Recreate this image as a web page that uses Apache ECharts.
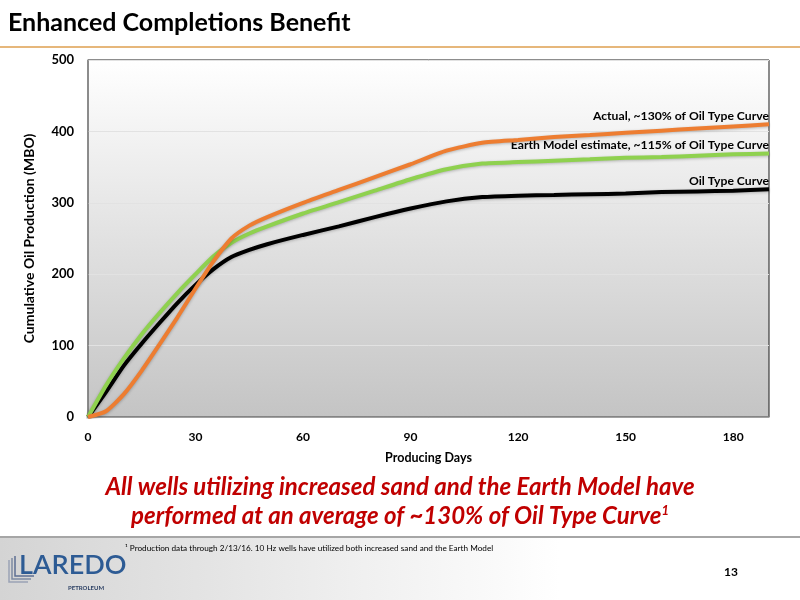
<!DOCTYPE html>
<html>
<head>
<meta charset="utf-8">
<script src="https://cdn.jsdelivr.net/npm/echarts@6/dist/echarts.min.js"></script>
<style>
html,body{margin:0;padding:0;background:#fff;}
#chart{width:800px;height:600px;}
</style>
</head>
<body>
<div id="chart"></div>
<script>
// ---- data ----
var days = [0, 5, 10, 15, 20, 25, 30, 35, 40, 45, 50, 60, 70, 80, 90, 100, 110, 120, 130, 140, 150, 160, 170, 180, 190];
var typeCurve = [0, 35, 72, 103, 132, 160, 185, 207, 224, 234, 242, 255, 267, 280, 292, 302, 308, 310, 311, 312, 313, 315, 316, 317, 319];
var earthModel = [0, 44, 82, 116, 146, 174, 200, 225, 244, 257, 267, 285, 301, 317, 333, 347, 355, 357, 359, 361, 363, 364, 366, 368, 369];
var actual = [0, 8, 32, 65, 102, 140, 180, 218, 250, 268, 280, 300, 318, 336, 354, 373, 384, 388, 392, 395, 398, 401, 404, 407, 410];
var seriesNames = ['Oil Type Curve', 'Earth Model estimate, ~115% of Oil Type Curve', 'Actual, ~130% of Oil Type Curve'];
var xTicks = [0, 30, 60, 90, 120, 150, 180];
var yTicks = [0, 100, 200, 300, 400, 500];

function pairs(xs, ys) { return xs.map(function (x, i) { return [x, ys[i]]; }); }

var FONT = 'Lato';
var chart = echarts.init(document.getElementById('chart'), null, { renderer: 'canvas' });

function lineSeries(name, data, color, z) {
  return {
    name: name,
    type: 'line',
    data: pairs(days, data),
    smooth: 0.2,
    showSymbol: false,
    symbol: 'none',
    z: z,
    lineStyle: { color: color, width: 4, shadowColor: 'rgba(0,0,0,0.25)', shadowBlur: 3, shadowOffsetY: 1 },
    endLabel: {
      show: true,
      formatter: name,
      align: 'right',
      verticalAlign: 'bottom',
      distance: 0,
      offset: [0, -2],
      color: '#000',
      fontFamily: FONT,
      fontWeight: 'bold',
      fontSize: 12.2
    }
  };
}

var option = {
  animation: false,
  backgroundColor: '#fff',
  grid: {
    left: 88, right: 31, top: 60, bottom: 183,
    show: true,
    borderColor: '#1a1a1a',
    borderWidth: 1,
    backgroundColor: new echarts.graphic.LinearGradient(0, 0, 0, 1, [
      { offset: 0, color: '#ffffff' },
      { offset: 1, color: '#c4c4c4' }
    ])
  },
  xAxis: {
    type: 'value', min: 0, max: 190, interval: 30,
    name: 'Producing Days', nameLocation: 'middle', nameGap: 34,
    nameTextStyle: { fontFamily: FONT, fontWeight: 'bold', fontSize: 12.5, color: '#000' },
    axisLine: { show: true, lineStyle: { color: '#8c8c8c', width: 1.5 } },
    axisTick: { show: false },
    splitLine: { show: false },
    axisLabel: {
      showMaxLabel: false, margin: 14,
      fontFamily: FONT, fontWeight: 'bold', fontSize: 12, color: '#000',
      formatter: function (v) { return xTicks.indexOf(v) >= 0 ? String(v) : ''; }
    }
  },
  yAxis: {
    type: 'value', min: 0, max: 500, interval: 100,
    name: 'Cumulative Oil Production (MBO)', nameLocation: 'middle', nameGap: 52,
    nameTextStyle: { fontFamily: FONT, fontWeight: 'bold', fontSize: 14, color: '#000' },
    axisLine: { show: true, lineStyle: { color: '#8c8c8c', width: 1.5 } },
    axisTick: { show: false },
    splitLine: { show: true, lineStyle: { color: '#e2e2e2', width: 1 } },
    axisLabel: {
      margin: 14,
      fontFamily: FONT, fontWeight: 'bold', fontSize: 13, color: '#000',
      formatter: function (v) { return yTicks.indexOf(v) >= 0 ? String(v) : ''; }
    }
  },
  series: [
    lineSeries(seriesNames[0], typeCurve, '#000000', 3),
    lineSeries(seriesNames[1], earthModel, '#8fd14f', 4),
    lineSeries(seriesNames[2], actual, '#ed7d31', 5)
  ],
  graphic: [
    { type: 'text', left: 8, top: 10, style: { text: 'Enhanced Completions Benefit', font: 'bold 25px ' + FONT, fill: '#000' } },
    { type: 'rect', shape: { x: 0, y: 46, width: 800, height: 2 }, style: { fill: '#e6b77b' } },
    {
      type: 'text', left: 'center', top: 475,
      style: { text: 'All wells utilizing increased sand and the Earth Model have', font: 'italic bold 24px ' + FONT, fill: '#c00000' }
    },
    {
      type: 'text', left: 'center', top: 504,
      style: {
        text: '{a|performed at an average of ~130% of Oil Type Curve}{s|1}',
        rich: {
          a: { font: 'italic bold 24px ' + FONT, fill: '#c00000' },
          s: { font: 'italic bold 13px ' + FONT, fill: '#c00000', verticalAlign: 'top', padding: [0, 0, 12, 0] }
        }
      }
    },
    {
      type: 'rect', shape: { x: 0, y: 538, width: 800, height: 62 }, z: -1,
      style: { fill: new echarts.graphic.LinearGradient(0, 0, 1, 0, [
        { offset: 0, color: '#d4d4d4' }, { offset: 0.7, color: '#ffffff' }, { offset: 1, color: '#ffffff' }
      ]) }
    },
    { type: 'rect', shape: { x: 0, y: 536, width: 800, height: 2 }, style: { fill: '#a6a6a6' } },
    { type: 'text', left: 125, top: 544, style: { text: '¹ Production data through 2/13/16. 10 Hz wells have utilized both increased sand and the Earth Model', font: '8.2px ' + FONT, fill: '#000' } },
    // logo
    { type: 'polyline', shape: { points: [[9, 560], [9, 582], [28, 582]] }, style: { stroke: '#9aa3b5', lineWidth: 1.5, fill: null } },
    { type: 'polyline', shape: { points: [[12, 558], [12, 579], [31, 579]] }, style: { stroke: '#7d8aa3', lineWidth: 1.5, fill: null } },
    { type: 'polyline', shape: { points: [[15, 556], [15, 576], [34, 576]] }, style: { stroke: '#5d6f93', lineWidth: 1.5, fill: null } },
    { type: 'text', left: 19, top: 552, style: { text: 'LAREDO', font: '600 27px ' + FONT, fill: '#2d5b94' } },
    { type: 'text', left: 68, top: 585, style: { text: 'PETROLEUM', font: 'bold 6px ' + FONT, fill: '#2b3f63' } },
    { type: 'text', left: 724, top: 566, style: { text: '13', font: 'bold 12px ' + FONT, fill: '#000' } }
  ]
};
chart.setOption(option);
</script>
</body>
</html>
